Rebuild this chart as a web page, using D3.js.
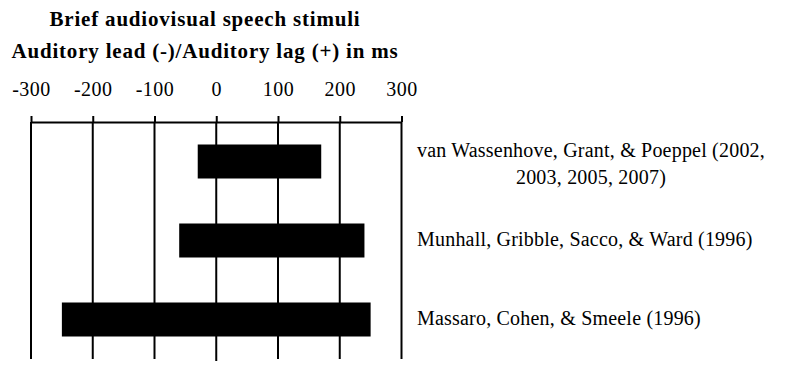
<!DOCTYPE html>
<html>
<head>
<meta charset="utf-8">
<script src="https://cdn.jsdelivr.net/npm/d3@7"></script>
<style>
    body { margin: 0; background: #fff; }
    svg text { font-family: "Liberation Serif", "Times New Roman", serif; fill: #000; }
</style>
</head>
<body>
<svg id="chart" width="792" height="373"></svg>
<script>
    // data (ms; negative = auditory lead)
    var studies = [
        ['van Wassenhove, Grant, & Poeppel (2002,', '2003, 2005, 2007)'],
        ['Munhall, Gribble, Sacco, & Ward (1996)'],
        ['Massaro, Cohen, & Smeele (1996)']
    ];
    var windowStart = [-30, -60, -250];
    var windowEnd = [170, 240, 250];
    var tickValues = [-300, -200, -100, 0, 100, 200, 300];
    var titleLines = ['Brief audiovisual speech stimuli', 'Auditory lead (-)/Auditory lag (+) in ms'];

    var svg = d3.select('#chart'),
        axisY = 122,
        gridBottom = 359,
        barHeight = 34,
        labelX = 417;

    var x = d3.scaleLinear()
        .domain([-300, 300])
        .range([31, 401.5]);

    var y = d3.scalePoint()
        .domain(d3.range(studies.length))
        .range([axisY, gridBottom])
        .padding(0.5);

    // title
    svg.append('g')
        .selectAll('text')
        .data(titleLines)
        .enter()
        .append('text')
        .attr('x', 205)
        .attr('y', function (d, i) { return 25.5 + i * 32; })
        .attr('text-anchor', 'middle')
        .style('font-size', '21px')
        .style('font-weight', 'bold')
        .style('letter-spacing', '0.8px')
        .text(function (d) { return d; });

    // grid lines, drawn first so bars sit on top
    svg.append('g')
        .selectAll('line')
        .data(tickValues)
        .enter()
        .append('line')
        .attr('x1', function (d) { return x(d); })
        .attr('x2', function (d) { return x(d); })
        .attr('y1', axisY)
        .attr('y2', function (d) { return d === 0 ? gridBottom + 2 : gridBottom; })
        .attr('stroke', '#000')
        .attr('stroke-width', 2);

    // top axis
    var axis = svg.append('g')
        .attr('transform', 'translate(0,' + axisY + ')')
        .call(d3.axisTop(x)
            .tickValues(tickValues)
            .tickSizeInner(6)
            .tickSizeOuter(0)
            .tickPadding(20)
            .tickFormat(function (d) { return String(d); }));

    axis.select('.domain')
        .attr('stroke-width', 2);
    axis.selectAll('.tick line')
        .attr('stroke-width', 2);
    axis.selectAll('.tick text')
        .style('font-family', '"Liberation Serif", "Times New Roman", serif')
        .style('font-size', '20px')
        .style('letter-spacing', '0.5px')
        .attr('fill', '#000');

    // bars
    svg.append('g')
        .selectAll('rect')
        .data(studies)
        .enter()
        .append('rect')
        .attr('x', function (d, i) { return x(windowStart[i]); })
        .attr('width', function (d, i) { return x(windowEnd[i]) - x(windowStart[i]); })
        .attr('y', function (d, i) { return y(i) - barHeight / 2; })
        .attr('height', barHeight)
        .attr('fill', '#000');

    // study labels
    var labels = svg.append('g')
        .selectAll('text')
        .data(studies)
        .enter()
        .append('text')
        .attr('x', labelX)
        .attr('y', function (d, i) {
            return d.length > 1 ? y(i) - 4.5 : y(i) + 5.5;
        })
        .style('font-size', '20px')
        .style('letter-spacing', '0.2px');

    labels.each(function (d) {
        var t = d3.select(this),
            first = t.append('tspan').attr('x', labelX).text(d[0]),
            w = first.node().getComputedTextLength();
        d.slice(1).forEach(function (line) {
            t.append('tspan')
                .attr('x', labelX + w / 2)
                .attr('dy', 26.5)
                .attr('text-anchor', 'middle')
                .text(line);
        });
    });
</script>
</body>
</html>
